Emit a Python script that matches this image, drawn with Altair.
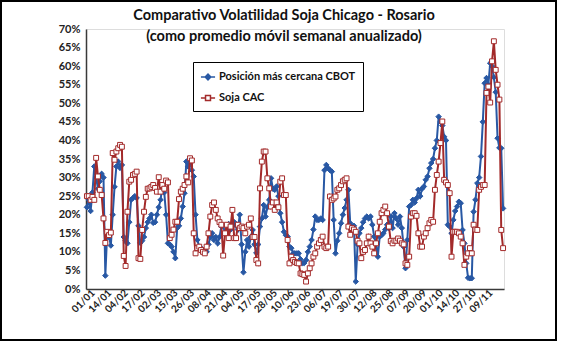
import altair as alt
import pandas as pd

series_names = ["Posición más cercana CBOT", "Soja CAC"]

tick_labels = ["01/01", "14/01", "04/02", "17/02", "02/03", "15/03", "26/03", "08/04",
               "21/04", "04/05", "17/05", "28/05", "10/06", "23/06", "06/07", "19/07",
               "30/07", "12/08", "25/08", "07/09", "20/09", "01/10", "14/10", "27/10", "09/11"]

cbot = [
    22, 24, 21, 26, 33, 30, 27, 29, 31, 30,
    3.6, 15, 14, 11.7, 20, 27.5, 33, 34.3, 32.6, 33.4,
    14, 13, 12.3, 18, 24, 24.5, 25, 24.5, 17, 12.4,
    13, 14, 16.4, 18, 19, 20, 17.8, 18, 20, 22,
    24, 28, 26, 20, 12.3, 12, 11.4, 10, 8.3, 16.4,
    17, 19, 22.2, 25.8, 34.3, 33, 35, 32, 30.3, 20,
    13.2, 11.4, 11, 10.5, 10, 10, 12, 14, 15, 13.2,
    14, 12.3, 14, 16.8, 17, 15, 16, 17.5, 16, 17,
    18, 17, 16, 20, 12, 4.5, 10, 13.2, 11.4, 14,
    15.9, 12, 9.7, 12, 16.8, 19, 22.6, 19.5, 22, 24,
    29.8, 27, 26.7, 27.6, 25, 20.4, 18, 15.4, 14.5, 14.1,
    11.4, 11, 9.6, 9.6, 9.6, 9.6, 8, 6.9, 7, 7.8,
    10, 11.4, 13.2, 16, 19.5, 18.6, 18.6, 19, 18.6, 32,
    33.4, 32.5, 32, 31.6, 18.6, 9.6, 13, 15, 17.7, 20,
    21.8, 24, 26.7, 17.7, 16.4, 17, 2, 12, 15, 16.4,
    18, 19, 19.5, 19, 19.5, 17.3, 14.1, 12.3, 8.7, 14.1,
    14.5, 15, 16, 17.3, 16.4, 19.5, 16.4, 20.4, 19, 17.3,
    19.5, 16.4, 11.4, 5.6, 13.2, 22.2, 22.6, 24, 23.3, 24.4,
    26.7, 25, 27, 27.6, 29.4, 30.3, 32.5, 33.9, 35, 37.9,
    40, 46.4, 45, 44, 41, 40, 17.3, 16.8, 15, 18.6,
    21, 22.2, 23.5, 23.1, 15.9, 12.3, 6.9, 3, 2.9, 2.9,
    20.8, 24, 28.5, 30, 35.7, 45, 55.4, 56.8, 55, 60.8,
    60, 57, 53, 40.6, 38, 37.9, 21.7,
]

cac = [
    25, 25, 24, 24.8, 24, 35.3, 30.3, 26.7, 25.3, 19,
    12.4, 15.4, 14.5, 15.2, 36.6, 34.8, 37, 37.9, 38.8, 38.3,
    8.9, 6.2, 20.8, 28.9, 29.4, 30.7, 31, 31.6, 8.3, 8.1,
    15.9, 20.8, 24.8, 27, 27.1, 27.5, 28, 27.2, 26.2, 30.1,
    26.2, 28, 27, 29.2, 28.7, 13.7, 14.6, 16, 18.1, 18.1,
    24.2, 26.2, 27, 28, 30.3, 28.7, 35.2, 34.6, 15, 9.6,
    11, 11.4, 10.5, 10, 9.6, 11.4, 15, 19.5, 22.6, 23.3,
    21.3, 19, 18, 17.3, 9, 15, 17.3, 13.7, 16.8, 21.3,
    13.7, 13.7, 17.3, 16.4, 16.8, 16.4, 15, 16.8, 17.3, 19,
    14, 14, 7.8, 6.9, 27.1, 34.3, 37, 37, 29.8, 27.1,
    22.2, 23.3, 21.3, 23.3, 22, 28.9, 29.8, 25.3, 25.3, 13.2,
    6.9, 8.7, 7.8, 7.3, 7, 6.9, 4.2, 4, 3.8, 2,
    4.2, 5.6, 6.9, 8.7, 9.6, 11.4, 12.3, 13.2, 14.1, 11.4,
    11, 11.4, 24.9, 24, 24.4, 24.9, 26.7, 27.1, 28, 29,
    29.4, 29.8, 16.8, 14.6, 16.4, 16, 15.4, 13, 12.3, 8.3,
    10, 10.5, 12.3, 14.1, 12.3, 11.4, 9.6, 12.3, 15, 18.1,
    20.4, 21.3, 22.2, 20.4, 16.8, 12.9, 12.3, 13, 13, 13.6,
    13, 12.3, 12, 6.9, 6.5, 8.7, 19.5, 20.4, 20.4, 19.7,
    15, 11.4, 11.4, 14.1, 15, 16.4, 17.7, 18.6, 18.1, 26.7,
    30.7, 34.3, 39.3, 45.1, 29.4, 28.7, 28, 25.8, 8.7, 15.4,
    15.4, 15.4, 15, 14.1, 12.3, 6.5, 8.7, 9.6, 11, 9.6,
    17.3, 16, 15.9, 26.7, 27.5, 28, 28, 52.8, 54.5, 50.2,
    61.3, 66.7, 59, 55, 51, 15.9, 11,
]

BLUE = "#2858A4"
RED = "#A32A2A"
FONT = "Lato"

n = len(cbot)
df = pd.DataFrame({
    "idx": list(range(n)) * 2,
    "value": cbot + cac,
    "serie": [series_names[0]] * n + [series_names[1]] * len(cac),
})

label_list = "[" + ",".join("'" + t + "'" for t in tick_labels) + "]"

x_enc = alt.X(
    "idx:Q",
    scale=alt.Scale(domain=[-0.5, n - 0.5], nice=False, zero=False),
    axis=alt.Axis(
        values=[i * 9 for i in range(len(tick_labels))],
        labelExpr=label_list + "[round(datum.value / 9)]",
        labelAngle=-45, labelAlign="right", labelBaseline="middle",
        labelFont=FONT, labelFontSize=10, labelFontWeight="bold", labelColor="#222222",
        labelPadding=2, labelOffset=6, ticks=False, grid=False, title=None,
        domainColor="#3a3a3a", domainWidth=1.5, labelOverlap=False, labelFlush=False,
    ),
)
y_enc = alt.Y(
    "value:Q",
    scale=alt.Scale(domain=[0, 70], nice=False),
    axis=alt.Axis(
        values=list(range(0, 71, 5)),
        labelExpr="datum.value + '%'",
        labelFont=FONT, labelFontSize=11, labelFontWeight="bold", labelColor="#222222",
        labelPadding=6, ticks=False, grid=False, title=None,
        domainColor="#3a3a3a", domainWidth=1.5,
    ),
)

sq = "M-0.35,-0.35H0.35V0.35H-0.35Z"
sym_red = "M-1,0H-0.35M0.35,0H1" + sq
sym_blue = "M-1,0H1M-0.4,0L0,-0.4L0.4,0L0,0.4Z"

legend = alt.Legend(
    title=None, orient="none", legendX=107, legendY=33,
    labelFont=FONT, labelFontSize=11, labelFontWeight="bold", labelColor="#111111",
    strokeColor="black", fillColor="white", padding=7, rowPadding=7,
    symbolSize=200, symbolStrokeWidth=1.5, labelOffset=3, symbolOpacity=1,
)

base = alt.Chart(df)
layers = []
for name, color, shape, fill in [(series_names[0], BLUE, "diamond", BLUE),
                                 (series_names[1], RED, "square", "white")]:
    sub = base.transform_filter(alt.datum.serie == name)
    layers.append(sub.mark_line(strokeWidth=2, color=color).encode(x=x_enc, y=y_enc))
    layers.append(sub.mark_point(filled=False, strokeWidth=1, size=24 if shape == "square" else 30,
                                 shape=shape, fill=fill, fillOpacity=1, stroke=color, opacity=1)
                  .encode(x=x_enc, y=y_enc))

# legend-only layer (no rows drawn)
legend_layer = base.transform_filter("false").mark_point(
    strokeWidth=1.5, opacity=1, fillOpacity=1
).encode(
    x=x_enc, y=y_enc,
    shape=alt.Shape("serie:N", scale=alt.Scale(domain=series_names, range=[sym_blue, sym_red]), legend=legend),
    fill=alt.Fill("serie:N", scale=alt.Scale(domain=series_names, range=[BLUE, "white"]), legend=legend),
    stroke=alt.Stroke("serie:N", scale=alt.Scale(domain=series_names, range=[BLUE, RED]), legend=legend),
)

frame = alt.Chart(pd.DataFrame({"a": [0]})).mark_rect(
    fill=None, stroke="black", strokeWidth=2
).encode(x=alt.value(-85), x2=alt.value(470), y=alt.value(-28), y2=alt.value(311))

chart = alt.layer(*layers, legend_layer, frame).properties(
    width=418, height=260,
    padding={"left": 86, "top": 29, "right": 57, "bottom": 54},
    autosize=alt.AutoSizeParams(type="none"),
    title=alt.TitleParams(
        text=["Comparativo Volatilidad Soja Chicago - Rosario",
              "(como promedio móvil semanal anualizado)"],
        font=FONT, fontSize=14.5, fontWeight="bold", color="#111111",
        anchor="middle", dx=-11, dy=48, lineHeight=21,
    ),
).configure_view(stroke=None).configure(background="white")

chart.save("out.html", embed_options={"renderer": "svg", "actions": False})
